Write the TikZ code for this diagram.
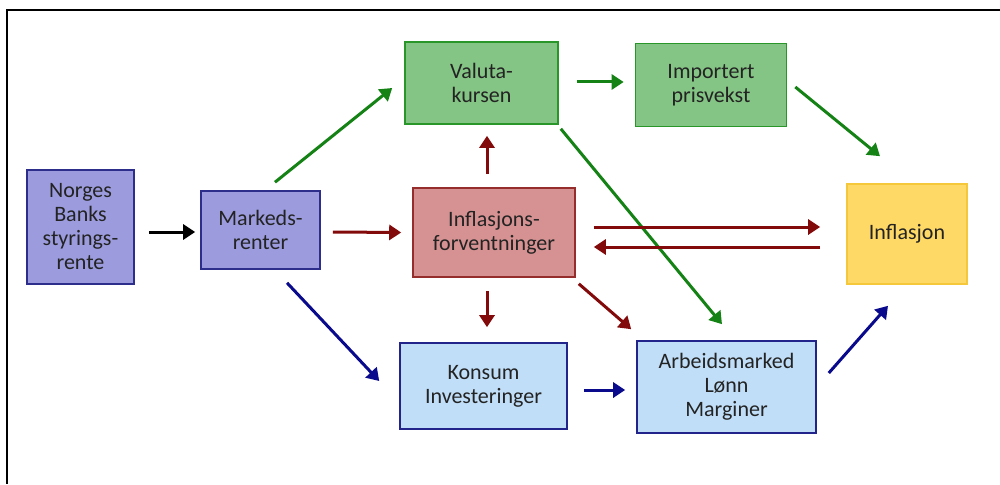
\documentclass[tikz,border=0pt]{standalone}
\usepackage{fontspec}
\setmainfont{Carlito}
\usepackage{tikz}
\usetikzlibrary{
  arrows.meta,
  calc
}
\definecolor{inktext}{RGB}{35,35,35}
\definecolor{purplefill}{RGB}{155,155,222}
\definecolor{purpleline}{RGB}{45,45,140}
\definecolor{greenfill}{RGB}{132,196,132}
\definecolor{greenline}{RGB}{40,150,40}
\definecolor{redfill}{RGB}{214,146,146}
\definecolor{redline}{RGB}{150,45,45}
\definecolor{yellowfill}{RGB}{255,217,102}
\definecolor{yellowline}{RGB}{245,200,60}
\definecolor{bluefill}{RGB}{192,222,248}
\definecolor{blueline}{RGB}{35,35,140}
\definecolor{greenarrow}{RGB}{20,130,20}
\definecolor{redarrow}{RGB}{130,10,10}
\definecolor{bluearrow}{RGB}{10,10,140}

\begin{document}
\begin{tikzpicture}[
  x=1pt,
  y=-1pt,
  font=\fontsize{22}{24}\selectfont,
  procbox/.style={
    draw,
    line width=1.6pt,
    align=center,
    text=inktext,
    inner sep=0pt
  },
  purplebox/.style={procbox, fill=purplefill, draw=purpleline},
  greenbox/.style={procbox, fill=greenfill, draw=greenline},
  redbox/.style={procbox, fill=redfill, draw=redline},
  yellowbox/.style={procbox, fill=yellowfill, draw=yellowline},
  bluebox/.style={procbox, fill=bluefill, draw=blueline},
  arr/.style={
    -{Triangle[length=12pt,width=15pt]},
    line width=3pt
  },
  garr/.style={arr, draw=greenarrow, fill=greenarrow},
  rarr/.style={arr, draw=redarrow, fill=redarrow},
  barr/.style={arr, draw=bluearrow, fill=bluearrow}
]

\useasboundingbox (0,0) rectangle (1000,484);
\draw[line width=2pt] (1000,10) -- (7,10) -- (7,484);

\node[purplebox, minimum width=107pt, minimum height=114pt] (styr) at (80.5,227) {Norges\\Banks\\styrings-\\rente};
\node[purplebox, minimum width=119pt, minimum height=78pt] (mark) at (260.5,230) {Markeds-\\renter};
\node[greenbox, minimum width=153pt, minimum height=82pt] (valuta) at (481.5,83) {Valuta-\\kursen};
\node[greenbox, minimum width=151pt, minimum height=83pt] (import) at (711,85) {Importert\\prisvekst};
\node[redbox, minimum width=162pt, minimum height=89pt] (forv) at (494,232.5) {Inflasjons-\\forventninger};
\node[yellowbox, minimum width=120pt, minimum height=100pt] (infl) at (907,234) {Inflasjon};
\node[bluebox, minimum width=167pt, minimum height=86pt] (konsum) at (483.5,386) {Konsum\\Investeringer};
\node[bluebox, minimum width=179pt, minimum height=92pt] (arbeid) at (726.5,387) {Arbeidsmarked\\Lønn\\Marginer};

\draw[arr, fill=black] ($(styr.east)+(14,5)$) -- ($(mark.west)+(-5,2)$);

\draw[garr] ($(mark.north)+(14.5,-8)$) -- ($(valuta.west)+(-12,5)$);
\draw[garr] ($(valuta.east)+(18,-1)$) -- ($(import.west)+(-11,-3)$);
\draw[garr] ($(import.east)+(8,2)$) -- ($(infl.north)+(-27,-27)$);
\draw[garr] ($(valuta.south east)+(2,4)$) -- ($(arbeid.north)+(-4.5,-16)$);

\draw[rarr] ($(forv.north)+(-7,-13)$) -- ($(valuta.south)+(5.5,11)$);
\draw[rarr] ($(mark.east)+(12,2)$) -- ($(forv.west)+(-11,0)$);
\draw[rarr] ($(forv.east)+(18,-5.5)$) -- ($(infl.west)+(-26,-7)$);
\draw[rarr] ($(infl.west)+(-26,13)$) -- ($(forv.east)+(18,14.5)$);
\draw[rarr] ($(forv.south)+(-7,13)$) -- ($(konsum.north)+(3.5,-15)$);
\draw[rarr] ($(forv.south east)+(3,6)$) -- ($(arbeid.north west)+(-5,-11)$);

\draw[barr] ($(mark.south)+(26.5,13)$) -- ($(konsum.west)+(-20,-5)$);
\draw[barr] ($(konsum.east)+(16,4)$) -- ($(arbeid.west)+(-11,3)$);
\draw[barr] ($(arbeid.east)+(12,-14)$) -- ($(infl.south)+(-19,21)$);

\end{tikzpicture}
\end{document}
